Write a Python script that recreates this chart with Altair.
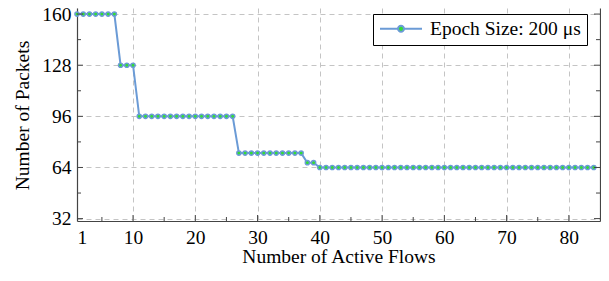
import altair as alt
import pandas as pd

# ---- data ----
flows = [1, 2, 3, 4, 5, 6, 7, 8, 9, 10,
         11, 12, 13, 14, 15, 16, 17, 18, 19, 20,
         21, 22, 23, 24, 25, 26, 27, 28, 29, 30,
         31, 32, 33, 34, 35, 36, 37, 38, 39, 40,
         41, 42, 43, 44, 45, 46, 47, 48, 49, 50,
         51, 52, 53, 54, 55, 56, 57, 58, 59, 60,
         61, 62, 63, 64, 65, 66, 67, 68, 69, 70,
         71, 72, 73, 74, 75, 76, 77, 78, 79, 80,
         81, 82, 83, 84]
packets = [160, 160, 160, 160, 160, 160, 160,
           128, 128, 128,
           96, 96, 96, 96, 96, 96, 96, 96, 96, 96, 96, 96, 96, 96, 96, 96,
           73, 73, 73, 73, 73, 73, 73, 73, 73, 73, 73,
           67, 67,
           64, 64, 64, 64, 64, 64, 64, 64, 64, 64,
           64, 64, 64, 64, 64, 64, 64, 64, 64, 64,
           64, 64, 64, 64, 64, 64, 64, 64, 64, 64,
           64, 64, 64, 64, 64, 64, 64, 64, 64, 64,
           64, 64, 64, 64, 64]
series_label = "Epoch Size: 200 μs"

y_major = [32, 64, 96, 128, 160]
y_minor = [48, 80, 112, 144]
x_major = [1, 10, 20, 30, 40, 50, 60, 70, 80]
x_minor = [5, 15, 25, 35, 45, 55, 65, 75]

# ---- style ----
W, H = 523, 213
FONT = "Liberation Serif"
FS = 19.5
BLUE = "#6b9bd6"
GREEN = "#33dd33"
AX = "#444444"
GRID = "#c4c4c4"

df = pd.DataFrame({"flows": flows, "packets": packets, "series": [series_label] * len(flows)})

xscale = alt.Scale(domain=[1, 85], nice=False, zero=False)
yscale = alt.Scale(domain=[30.5, 163.8], nice=False, zero=False)

line = alt.Chart(df).mark_line(strokeWidth=2).encode(
    x=alt.X("flows:Q", scale=xscale,
            axis=alt.Axis(values=x_major, title="Number of Active Flows", grid=True,
                          ticks=False, labelPadding=7, titleY=41,
                          titleBaseline="alphabetic")),
    y=alt.Y("packets:Q", scale=yscale,
            axis=alt.Axis(values=y_major, title="Number of Packets", grid=True,
                          ticks=False, labelPadding=6, titleX=-48.5, titleY=107,
                          titleBaseline="alphabetic")),
    color=alt.Color("series:N", scale=alt.Scale(domain=[series_label], range=[BLUE]),
                    legend=alt.Legend(
                        title=None, orient="none", legendX=296, legendY=6,
                        symbolType="M-1,0L-0.143,0M0.143,0L1,0M0.143,0A0.143,0.143,0,1,1,-0.143,0A0.143,0.143,0,1,1,0.143,0Z",
                        symbolSize=1764, symbolStrokeWidth=2, symbolFillColor=GREEN,
                        symbolStrokeColor=BLUE, labelOffset=7, clipHeight=17.5,
                        strokeColor="black", fillColor="white", padding=6,
                        labelFont=FONT, labelFontSize=FS, labelColor="black",
                        labelLimit=400)),
)

points = alt.Chart(df).mark_point(filled=False, shape="circle", size=18, strokeWidth=1.4,
                                  stroke=BLUE, fill=GREEN, opacity=1, fillOpacity=1).encode(
    x=alt.X("flows:Q", scale=xscale),
    y=alt.Y("packets:Q", scale=yscale, axis=None),
)


def yticks(vals, length, side, axis=None):
    d = pd.DataFrame({"v": vals})
    x0 = 0 if side == "left" else W
    x1 = length if side == "left" else W - length
    return alt.Chart(d).mark_rule(color=AX, strokeWidth=1).encode(
        y=alt.Y("v:Q", scale=yscale, axis=axis),
        x=alt.value(x0), x2=alt.value(x1))


def xticks(vals, length):
    d = pd.DataFrame({"v": vals})
    return alt.Chart(d).mark_rule(color=AX, strokeWidth=1).encode(
        x=alt.X("v:Q", scale=xscale),
        y=alt.value(H), y2=alt.value(H - length))


right_axis = alt.Axis(orient="right", labels=False, ticks=False, grid=False, title=None,
                      domain=True)

chart = alt.layer(
    line,
    points,
    yticks(y_major, 6, "left"),
    yticks(y_minor, 4, "left"),
    yticks(y_major, 6, "right", right_axis),
    yticks(y_minor, 4, "right"),
    xticks(x_major[1:], 6),
    xticks(x_minor, 4),
).resolve_axis(y="independent").properties(
    width=W, height=H, background="white",
    autosize=alt.AutoSizeParams(type="none"),
    padding={"left": 69, "top": 0, "right": 1, "bottom": 55},
).configure_view(stroke=None).configure_axis(
    labelFont=FONT, labelFontSize=FS, labelColor="black",
    titleFont=FONT, titleFontSize=FS, titleColor="black", titleFontWeight="normal",
    domainColor=AX, domainWidth=1.2,
    gridColor=GRID, gridDash=[5, 4], gridWidth=1,
)

chart.save("out.html", embed_options={"renderer": "svg", "actions": False})
